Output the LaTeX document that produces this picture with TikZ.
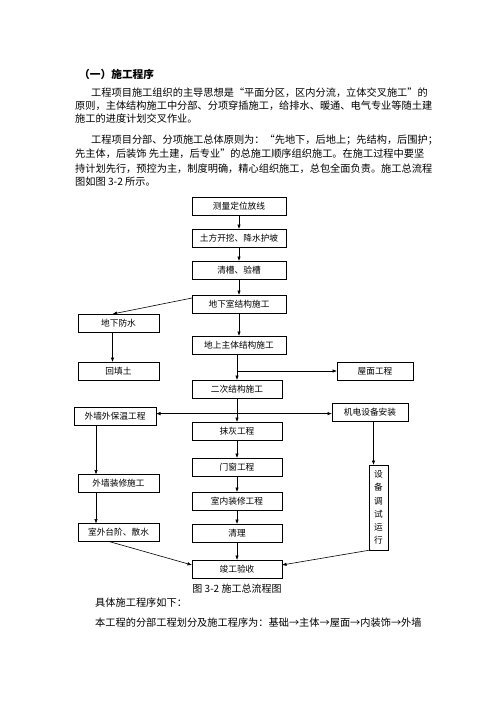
\documentclass[tikz,border=0pt]{standalone}
\usepackage{fontspec}
\setmainfont{Noto Sans CJK SC}
\usetikzlibrary{positioning,arrows.meta}
\newcommand{\boxfont}{\fontsize{8.7}{10}\selectfont}
\newcommand{\bodyfont}{\fontsize{10.2}{13}\selectfont}

\begin{document}
\begin{tikzpicture}[x=1pt,y=-1pt,
  stage/.style={draw,line width=0.6pt,minimum height=18pt,inner sep=0pt,outer sep=0pt,font=\boxfont},
  flow/.style={line width=0.6pt,-{Latex[length=4.5pt,width=3.5pt]}},
  para/.style={anchor=west,inner sep=0pt,font=\bodyfont}]
\useasboundingbox (0,0) rectangle (500,706);

\node[anchor=west,inner sep=0pt,font=\fontsize{10.7}{12}\selectfont\bfseries] (title) at (79,74) {（一）施工程序};
\node[para] (p1) at (91,93) {工程项目施工组织的主导思想是“平面分区，区内分流，立体交叉施工”的};
\node[para] (p2) at (75,105.5) {原则，主体结构施工中分部、分项穿插施工，给排水、暖通、电气专业等随土建};
\node[para] (p3) at (75,119) {施工的进度计划交叉作业。};
\node[para] (p4) at (91,140) {工程项目分部、分项施工总体原则为：“先地下，后地上；先结构，后围护；};
\node[para] (p5) at (75,154) {先主体，后装饰 先土建，后专业”的总施工顺序组织施工。在施工过程中要坚};
\node[para] (p6) at (75,169) {持计划先行，预控为主，制度明确，精心组织施工，总包全面负责。施工总流程};
\node[para] (p7) at (75,182) {图如图 3-2 所示。};

\node[stage,minimum width=94pt] (n1) at (239,206) {测量定位放线};
\node[stage,minimum width=94pt,below=14pt of n1] (n2) {土方开挖、降水护坡};
\node[stage,minimum width=94pt,below=14pt of n2] (n3) {清槽、验槽};
\node[stage,minimum width=94pt,below=16pt of n3] (n4) {地下室结构施工};
\node[stage,minimum width=94pt,below=23pt of n4] (n5) {地上主体结构施工};
\node[stage,minimum width=90pt,below=26pt of n5.south west,anchor=north west] (n6) {二次结构施工};
\node[stage,minimum width=90pt,below=24pt of n6] (n7) {抹灰工程};
\node[stage,minimum width=90pt,below=18pt of n7] (n8) {门窗工程};
\node[stage,minimum width=90pt,below=16pt of n8] (n9) {室内装修工程};
\node[stage,minimum width=90pt,below=14pt of n9] (n10) {清理};
\node[stage,minimum width=90pt,below=18pt of n10] (n11) {竣工验收};

\node[stage,minimum width=81pt] (w1) at (118.5,323) {地下防水};
\node[stage,minimum width=81pt] (w2) at (118.5,371) {回填土};
\node[stage,minimum width=82pt] (w3) at (115,416.5) {外墙外保温工程};
\node[stage,minimum width=81pt] (w4) at (118.5,483.5) {外墙装修施工};
\node[stage,minimum width=81pt] (w5) at (118.5,532.5) {室外台阶、散水};
\node[stage,minimum width=76pt] (r1) at (375,371) {屋面工程};
\node[stage,minimum width=76pt] (r2) at (370,412.5) {机电设备安装};
\node[stage,minimum width=19pt,minimum height=85pt,align=center,font=\fontsize{8.7}{13.2}\selectfont] (r3) at (378.5,507.5) {设\\备\\调\\试\\运\\行};

\draw[flow] (n1) -- (n2);
\draw[flow] (n2) -- (n3);
\draw[flow] (n3) -- (n4);
\draw[flow] (n4) -- (n5);
\draw[flow] (n5.south -| n6.north) -- (n6.north);
\draw[flow] (n6.north |- r1.west) -- (r1.west);
\draw[flow] (n6) -- (n7);
\path (n6.south) -- (n7.north) coordinate[pos=0.65] (jn);
\draw[flow] (jn) -- (jn -| w3.east);
\draw[flow] (jn) -- (jn -| r2.west);
\draw[flow] (n7) -- (n8);
\draw[flow] (n8) -- (n9);
\draw[flow] (n9) -- (n10);
\draw[flow] (n10) -- (n11);
\draw[flow] ([yshift=6pt]n4.west) -- ([xshift=-6pt]w1.north);
\draw[flow] ([xshift=-6pt]w1.south) -- ([xshift=-6pt]w2.north);
\draw[flow] ([xshift=-19pt]w3.south) -- ([xshift=-22.5pt]w4.north);
\draw[flow] ([xshift=-22.5pt]w4.south) -- ([xshift=-22.5pt]w5.north);
\draw[flow] ([xshift=-5pt]r3.north |- r2.south) -- ([xshift=-5pt]r3.north);
\draw[flow] ([xshift=-9.5pt]w5.south) -- ([yshift=4pt]n11.west);
\draw[flow] ([xshift=-8pt]r3.south) -- ([yshift=4pt]n11.east);

\node[inner sep=0pt,font=\fontsize{10}{12}\selectfont] (cap) at (237,589) {图 3-2 施工总流程图};
\node[para] (q1) at (95,603) {具体施工程序如下：};
\node[para] (q2) at (95,623) {本工程的分部工程划分及施工程序为：基础→主体→屋面→内装饰→外墙};
\end{tikzpicture}
\end{document}
